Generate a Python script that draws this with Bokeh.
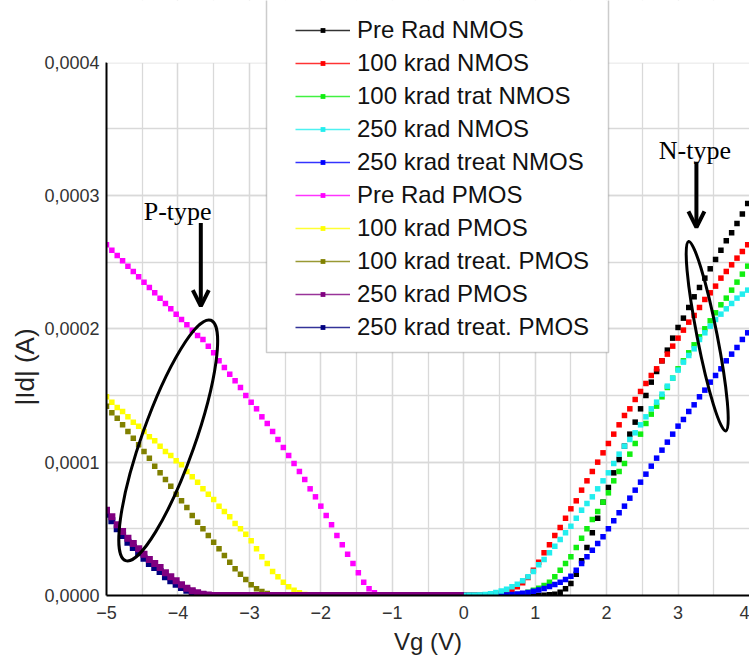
from math import pi
import numpy as np
from bokeh.plotting import figure
from bokeh.models import (Legend, LegendItem, Label, Arrow, OpenHead, BoxAnnotation, Title,
                          SingleIntervalTicker, CustomJSTickFormatter, Range1d)
from bokeh.embed import file_html
from bokeh.resources import INLINE

# ---------------- data (|Id| in units of 1e-4 A) ----------------
VG_PMOS = [-5.0, -4.925, -4.85, -4.775, -4.7, -4.625, -4.55, -4.475, -4.4, -4.325,
           -4.25, -4.175, -4.1, -4.025, -3.95, -3.875, -3.8, -3.725, -3.65, -3.575,
           -3.5, -3.425, -3.35, -3.275, -3.2, -3.125, -3.05, -2.975, -2.9, -2.825,
           -2.75, -2.675, -2.6, -2.525, -2.45, -2.375, -2.3, -2.225, -2.15, -2.075,
           -2.0, -1.925, -1.85, -1.775, -1.7, -1.625, -1.55, -1.475, -1.4, -1.325,
           -1.25, -1.175, -1.1, -1.025, -0.95, -0.875, -0.8, -0.725, -0.65, -0.575,
           -0.5, -0.425, -0.35, -0.275, -0.2, -0.125, -0.05]

VG_NMOS = [0.0, 0.075, 0.15, 0.225, 0.3, 0.375, 0.45, 0.525, 0.6, 0.675,
           0.75, 0.825, 0.9, 0.975, 1.05, 1.125, 1.2, 1.275, 1.35, 1.425,
           1.5, 1.575, 1.65, 1.725, 1.8, 1.875, 1.95, 2.025, 2.1, 2.175,
           2.25, 2.325, 2.4, 2.475, 2.55, 2.625, 2.7, 2.775, 2.85, 2.925,
           3.0, 3.075, 3.15, 3.225, 3.3, 3.375, 3.45, 3.525, 3.6, 3.675,
           3.75, 3.825, 3.9, 3.975, 4.05]

PRE_RAD_NMOS = [0.0] * 15 + [0.002, 0.005, 0.01, 0.025, 0.05, 0.09, 0.16, 0.26, 0.36, 0.47,
                             0.58, 0.70, 0.81, 0.92, 1.02, 1.12, 1.21, 1.30, 1.40, 1.50,
                             1.60, 1.68, 1.76, 1.84, 1.93, 2.01, 2.08, 2.16, 2.24, 2.31,
                             2.38, 2.45, 2.52, 2.59, 2.66, 2.72, 2.79, 2.86, 2.94, 3.00]
K100_NMOS = [0.0] * 4 + [0.002, 0.005, 0.01, 0.017, 0.027, 0.042, 0.065, 0.095, 0.135, 0.19,
                         0.25, 0.32, 0.38, 0.45, 0.51, 0.58, 0.65, 0.71, 0.79, 0.86,
                         0.93, 1.00, 1.07, 1.14, 1.21, 1.28, 1.35, 1.40, 1.47, 1.53,
                         1.59, 1.65, 1.70, 1.76, 1.81, 1.87, 1.93, 1.99, 2.05, 2.10,
                         2.16, 2.22, 2.27, 2.32, 2.38, 2.43, 2.48, 2.53, 2.58, 2.63, 2.67]
K100_TRAT_NMOS = [0.0] * 8 + [0.002, 0.004, 0.008, 0.014, 0.025, 0.04, 0.055, 0.075, 0.10, 0.14,
                              0.19, 0.24, 0.29, 0.36, 0.43, 0.50, 0.57, 0.63, 0.70, 0.77,
                              0.86, 0.93, 0.99, 1.06, 1.14, 1.21, 1.29, 1.36, 1.42, 1.49,
                              1.56, 1.63, 1.70, 1.76, 1.82, 1.88, 1.94, 2.00, 2.06, 2.12,
                              2.18, 2.23, 2.29, 2.35, 2.41, 2.47, 2.52]
K250_NMOS = [0.0, 0.001, 0.002, 0.004, 0.008, 0.014, 0.022, 0.033, 0.047, 0.065,
             0.085, 0.11, 0.14, 0.18, 0.23, 0.27, 0.32, 0.37, 0.42, 0.47,
             0.52, 0.58, 0.64, 0.69, 0.74, 0.80, 0.86, 0.92, 0.99, 1.06,
             1.12, 1.17, 1.22, 1.28, 1.34, 1.40, 1.45, 1.51, 1.57, 1.63,
             1.69, 1.75, 1.80, 1.85, 1.92, 1.97, 2.02, 2.07, 2.11, 2.15,
             2.19, 2.23, 2.26, 2.29, 2.32]
K250_TREAT_NMOS = [0.0] * 7 + [0.002, 0.004, 0.007, 0.011, 0.016, 0.023, 0.031, 0.041, 0.053, 0.067,
                               0.083, 0.10, 0.12, 0.145, 0.19, 0.24, 0.29, 0.34, 0.39, 0.44,
                               0.50, 0.56, 0.62, 0.67, 0.73, 0.79, 0.85, 0.91, 0.97, 1.03,
                               1.09, 1.15, 1.21, 1.27, 1.32, 1.38, 1.43, 1.49, 1.54, 1.60,
                               1.65, 1.70, 1.76, 1.81, 1.86, 1.92, 1.97, 2.02]

PRE_RAD_PMOS = [2.63, 2.59, 2.55, 2.51, 2.47, 2.43, 2.39, 2.35, 2.31, 2.27,
                2.23, 2.19, 2.15, 2.11, 2.07, 2.03, 1.99, 1.95, 1.92, 1.87,
                1.82, 1.76, 1.71, 1.66, 1.61, 1.56, 1.50, 1.45, 1.40, 1.34,
                1.29, 1.23, 1.17, 1.11, 1.05, 0.99, 0.93, 0.87, 0.80, 0.74,
                0.67, 0.60, 0.53, 0.45, 0.38, 0.31, 0.24, 0.17, 0.10, 0.05,
                0.02, 0.005] + [0.0] * 15
K100_PMOS = [1.49, 1.45, 1.41, 1.38, 1.34, 1.30, 1.27, 1.23, 1.19, 1.16,
             1.12, 1.08, 1.05, 1.01, 0.98, 0.93, 0.89, 0.85, 0.80, 0.76,
             0.72, 0.67, 0.63, 0.59, 0.54, 0.50, 0.46, 0.41, 0.35, 0.29,
             0.24, 0.18, 0.14, 0.10, 0.065, 0.04, 0.02, 0.008] + [0.0] * 29
K100_TREAT_PMOS = [1.42, 1.37, 1.33, 1.28, 1.23, 1.18, 1.13, 1.08, 1.03, 0.97,
                   0.92, 0.87, 0.82, 0.76, 0.71, 0.66, 0.60, 0.55, 0.50, 0.45,
                   0.40, 0.35, 0.30, 0.25, 0.20, 0.16, 0.12, 0.08, 0.05, 0.03,
                   0.015, 0.005] + [0.0] * 35
K250_PMOS = [0.64, 0.59, 0.53, 0.48, 0.43, 0.39, 0.35, 0.31, 0.27, 0.24,
             0.21, 0.17, 0.14, 0.11, 0.08, 0.055, 0.035, 0.02, 0.01, 0.004] + [0.0] * 47
K250_TREAT_PMOS = [0.61, 0.56, 0.50, 0.45, 0.40, 0.36, 0.32, 0.28, 0.24, 0.21,
                   0.18, 0.14, 0.11, 0.085, 0.06, 0.04, 0.025, 0.012, 0.005] + [0.0] * 48

LABELS = ["Pre Rad NMOS", "100 krad NMOS", "100 krad trat NMOS", "250 krad NMOS",
          "250 krad treat NMOS", "Pre Rad PMOS", "100 krad PMOS", "100 krad treat. PMOS",
          "250 krad PMOS", "250 krad treat. PMOS"]
COLORS = ["#000000", "#ff0000", "#11ee11", "#22eeee", "#0000ff",
          "#ff00ff", "#ffff00", "#808000", "#800080", "#000080"]
SERIES = [(VG_NMOS, PRE_RAD_NMOS), (VG_NMOS, K100_NMOS), (VG_NMOS, K100_TRAT_NMOS),
          (VG_NMOS, K250_NMOS), (VG_NMOS, K250_TREAT_NMOS),
          (VG_PMOS, PRE_RAD_PMOS), (VG_PMOS, K100_PMOS), (VG_PMOS, K100_TREAT_PMOS),
          (VG_PMOS, K250_PMOS), (VG_PMOS, K250_TREAT_PMOS)]
SIZES = [5.5, 5.5, 5.5, 5.5, 5.5, 5.5, 5.5, 5.5, 7, 7]
DRAW_ORDER = [0, 1, 2, 4, 3, 5, 6, 7, 9, 8]

FONT = "Liberation Sans"
GRID = "#d9d9d9"
Y_TOP = 4.462   # frame reaches the top of the canvas so the legend box can rise above 0,0004

p = figure(width=749, height=662, output_backend="svg", toolbar_location=None,
           x_range=Range1d(-5, 4), y_range=Range1d(0, Y_TOP),
           min_border_left=106, min_border_right=0, min_border_top=0, min_border_bottom=67)
p.outline_line_color = None

xt = SingleIntervalTicker(interval=1, num_minor_ticks=2)
yt = SingleIntervalTicker(interval=1, num_minor_ticks=2)
p.xaxis.ticker = xt
p.yaxis.ticker = yt
p.xgrid.ticker = xt
p.ygrid.ticker = yt
for g in (p.xgrid, p.ygrid):
    g.grid_line_color = GRID
    g.grid_line_width = 1.3
    g.minor_grid_line_color = GRID
    g.minor_grid_line_width = 1.3

p.yaxis.formatter = CustomJSTickFormatter(code="return (tick/10000).toFixed(4).replace('.', ',');")
p.yaxis.bounds = (0, 4)
for ax in (p.xaxis, p.yaxis):
    ax.axis_line_color = "black"
    ax.axis_line_width = 2
    ax.major_tick_line_color = None
    ax.minor_tick_line_color = None
    ax.major_label_text_font = FONT
    ax.major_label_text_font_size = "18px"
    ax.major_label_text_color = "#333333"
    ax.major_label_standoff = 4
p.yaxis.major_tick_out = 0
p.yaxis.minor_tick_out = 0
p.yaxis.major_label_standoff = 7
p.yaxis.axis_label_standoff = 0

p.xaxis.axis_label = "Vg (V)"
p.xaxis.axis_label_text_font = FONT
p.xaxis.axis_label_text_font_size = "24px"
p.xaxis.axis_label_text_font_style = "normal"
p.xaxis.axis_label_text_color = "#222222"
p.xaxis.axis_label_standoff = 6

p.add_layout(Title(text="|Id| (A)", align="left", offset=190, standoff=4,
                   text_font=FONT, text_font_size="26px", text_font_style="normal",
                   text_color="#222222"), "left")

scatters = [None] * 10
for i in DRAW_ORDER:
    xs, ys = SERIES[i]
    scatters[i] = p.scatter(xs, ys, marker="square", size=SIZES[i],
                            fill_color=COLORS[i], line_color=None)

# line renderers that only serve the legend (no visible points)
lines = [p.line(x=np.array([np.nan]), y=np.array([np.nan]), line_color=COLORS[i],
                line_width=1.5, line_alpha=0.8) for i in range(10)]

items = [LegendItem(label=LABELS[i], renderers=[lines[i], scatters[i]]) for i in range(10)]

# blank out the area above 0,0004
p.add_layout(BoxAnnotation(bottom=3.995, fill_color="white", fill_alpha=1.0, line_color=None))
# legend frame
p.add_layout(BoxAnnotation(left=160, right=502, bottom=243, top=700,
                           left_units="screen", right_units="screen",
                           bottom_units="screen", top_units="screen",
                           fill_color="white", fill_alpha=1.0,
                           line_color="#555555", line_width=1.5))

legend = Legend(items=items, location=(189, 254), padding=0, margin=0, spacing=5,
                glyph_width=55, glyph_height=12, label_height=28, label_standoff=7,
                label_text_font=FONT, label_text_font_size="24px",
                label_text_color="#111111",
                border_line_color=None, background_fill_alpha=0.0)
p.add_layout(legend)

# ellipses, arrows and texts
p.ellipse(x=[-4.136], y=[1.163], width=255, height=53, angle=1.23,
          width_units="screen", height_units="screen",
          fill_color=None, line_color="black", line_width=3)
p.ellipse(x=[3.408], y=[1.944], width=193, height=20, angle=1.765,
          width_units="screen", height_units="screen",
          fill_color=None, line_color="black", line_width=3)

p.add_layout(Arrow(end=OpenHead(size=16, line_width=4, line_color="black"),
                   x_start=-3.68, y_start=2.794, x_end=-3.68, y_end=2.17,
                   line_width=4, line_color="black"))
p.add_layout(Arrow(end=OpenHead(size=16, line_width=4, line_color="black"),
                   x_start=3.257, y_start=3.252, x_end=3.257, y_end=2.76,
                   line_width=4, line_color="black"))

p.add_layout(Label(x=-4.479, y=2.882, text="P-type", text_font="Liberation Serif",
                   text_font_size="26px", text_baseline="alphabetic", text_color="black"))
p.add_layout(Label(x=2.73, y=3.34, text="N-type", text_font="Liberation Serif",
                   text_font_size="26px", text_baseline="alphabetic", text_color="black"))

open("out.html", "w").write(file_html(p, INLINE))
